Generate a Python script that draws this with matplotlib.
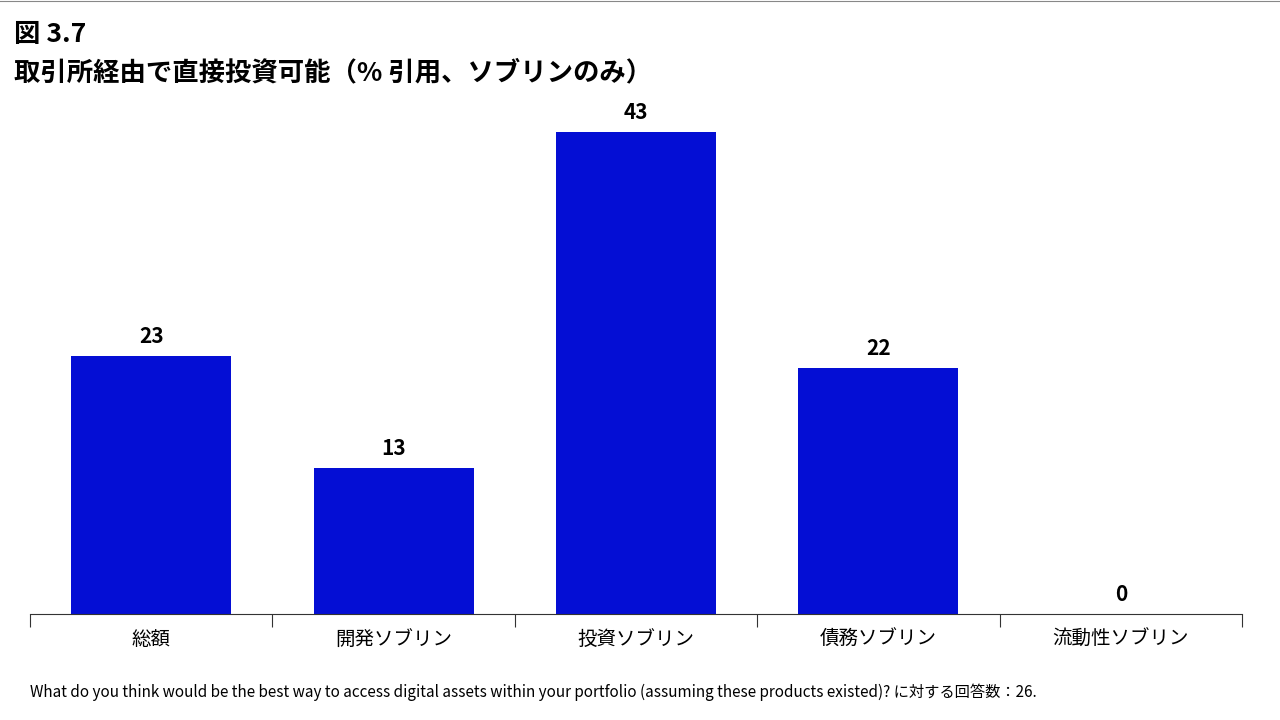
import matplotlib
matplotlib.use("Agg")
import matplotlib.pyplot as plt
import numpy as np

plt.rcParams["font.family"] = ["Noto Sans CJK JP", "DejaVu Sans"]

categories = ["総額", "開発ソブリン", "投資ソブリン", "債務ソブリン", "流動性ソブリン"]
values = [23, 13, 43, 22, 0]

fig = plt.figure(figsize=(12.8, 7.2), dpi=100)
ax = fig.add_axes([30 / 1280, 1 - 614 / 720, 1212 / 1280, 504 / 720])

x = np.arange(len(categories))
ax.bar(x, values, width=0.66, color="#040ed4")
for xi, v in zip(x, values):
    ax.text(xi, v + 0.8, str(v), ha="center", va="bottom", fontsize=15, fontweight="bold")

ax.set_xlim(-0.5, len(categories) - 0.5)
ax.set_ylim(0, 45)
ax.set_yticks([])
for s in ["top", "right", "left"]:
    ax.spines[s].set_visible(False)
ax.spines["bottom"].set_color("#333333")
ax.set_xticks(np.arange(len(categories) + 1) - 0.5)
ax.set_xticklabels([])
ax.tick_params(axis="x", length=9, color="#333333")
for xi, c in zip(x, categories):
    ax.text(xi, -2.3, c, ha="center", va="center", fontsize=14)

fig.text(14 / 1280, 1 - 35 / 720, "図 3.7", fontsize=19, fontweight="bold", va="center")
fig.text(14 / 1280, 1 - 73 / 720, "取引所経由で直接投資可能（% 引用、ソブリンのみ）",
         fontsize=19, fontweight="bold", va="center")
fig.text(30 / 1280, 1 - 692 / 720,
         "What do you think would be the best way to access digital assets within your portfolio "
         "(assuming these products existed)? に対する回答数：26.",
         fontsize=11, va="center")
fig.add_artist(plt.Line2D([0, 1], [0.999, 0.999], color="#888888", lw=0.8))

fig.savefig("out.png", dpi=100)
